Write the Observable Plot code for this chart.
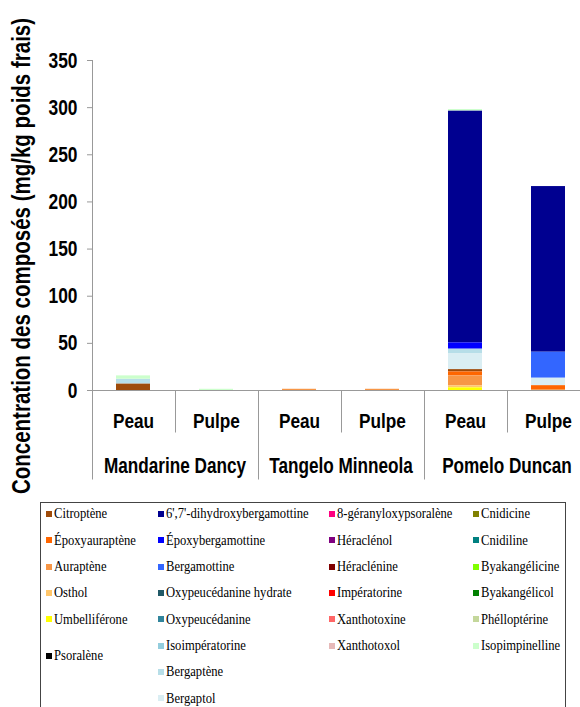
<!DOCTYPE html>
<html><head><meta charset="utf-8">
<script src="https://cdn.jsdelivr.net/npm/d3@7"></script>
<script src="https://cdn.jsdelivr.net/npm/@observablehq/plot@0.6"></script>
<style>
html,body{margin:0;padding:0;background:#fff;overflow:hidden;width:580px;height:707px;}
#chart{position:absolute;left:0;top:0;width:600px;}
#chart svg{max-width:none !important;overflow:visible;}
#legend{position:absolute;left:40px;top:502px;width:526px;height:215px;border:1px solid #444;box-sizing:border-box;font-family:"Liberation Serif","Times New Roman",serif;font-size:15px;color:#000;background:#fff;}
.sw{position:absolute;width:6px;height:6px;}
.lab{position:absolute;white-space:nowrap;transform:scaleX(0.84);transform-origin:0 50%;line-height:1;}
</style></head><body>
<div id="chart"></div><div id="legend"></div>
<script>
// ---- categories ----
const groups = ["Mandarine Dancy", "Tangelo Minneola", "Pomelo Duncan"];
const parts = ["Peau", "Pulpe"];

// ---- series (legend order) ----
const seriesNames = [
  "Citroptène", "Époxyauraptène", "Auraptène", "Osthol", "Umbelliférone", "Psoralène",
  "6',7'-dihydroxybergamottine", "Époxybergamottine", "Bergamottine", "Oxypeucédanine hydrate",
  "Oxypeucédanine", "Isoimpératorine", "Bergaptène", "Bergaptol",
  "8-géranyloxypsoralène", "Héraclénol", "Héraclénine", "Impératorine", "Xanthotoxine", "Xanthotoxol",
  "Cnidicine", "Cnidiline", "Byakangélicine", "Byakangélicol", "Phélloptérine", "Isopimpinelline"
];
const seriesColors = [
  "#9E4B0A", "#FF6600", "#F79646", "#FFC66A", "#FFFF00", "#000000",
  "#000090", "#0000FF", "#3366FF", "#215967",
  "#31859C", "#93CDDD", "#B7DEE8", "#DAEEF3",
  "#FF0080", "#800080", "#800000", "#FF0000", "#FF6666", "#E6B9B8",
  "#808000", "#008080", "#80FF00", "#008000", "#C4D79B", "#CCFFCC"
];
// stacking order, bottom to top
const stackOrder = [
  "Psoralène", "Umbelliférone", "Osthol", "Auraptène", "Époxyauraptène", "Citroptène",
  "Bergaptol", "Bergaptène", "Isoimpératorine", "Oxypeucédanine", "Oxypeucédanine hydrate",
  "Bergamottine", "Époxybergamottine", "6',7'-dihydroxybergamottine",
  "Xanthotoxol", "Xanthotoxine", "Impératorine", "Héraclénine", "Héraclénol", "8-géranyloxypsoralène",
  "Isopimpinelline", "Phélloptérine", "Byakangélicol", "Byakangélicine", "Cnidiline", "Cnidicine"
];

// ---- values (mg/kg), in seriesNames order ----
//                          Cit  Epa  Aur  Ost  Umb  Pso  DHB  EpB  Berg OxH  Oxy  Iso  Bgn  Bgl  Ger  Hol  Hin  Imp  Xin  Xol  Cdc  Cdl  ByA  ByO  Phe  Ipi
const mandarinePeau   = [7.0, 0,   0,   0,   0,   0,   0,   0,   0,   0,   0,   0,   5.0, 0,   0,   0,   0,   0,   0,   0,   0,   0,   0,   0,   0,   3.5];
const mandarinePulpe  = [0,   0,   0,   0,   0,   0,   0,   0,   0,   0,   0,   0,   0,   0,   0,   0,   0,   0,   0,   0,   0,   0,   0,   0,   0,   1.3];
const tangeloPeau     = [0,   0,   1.3, 0,   0,   0,   0,   0,   0,   0,   0,   0,   0,   0,   0,   0,   0,   0,   0,   0,   0,   0,   0,   0,   0,   0];
const tangeloPulpe    = [0,   0,   1.3, 0,   0,   0,   0,   0,   0,   0,   0,   0,   0,   0,   0,   0,   0,   0,   0,   0,   0,   0,   0,   0,   0,   0];
const pomeloPeau      = [2.5, 4.2, 10.6,2.1, 2.8, 0,   246, 6.7, 0,   0,   0,   0,   4.6, 17,  0,   0,   0,   0,   0,   0,   0,   0,   0,   0,   0,   1.5];
const pomeloPulpe     = [0,   4.2, 1.0, 0,   0,   0,   175.7,0,  27.6,0,   0,   0,   0,   7.8, 0,   0,   0,   0,   0,   0,   0,   0,   0,   0,   0,   0];

const yTicks = [0, 50, 100, 150, 200, 250, 300, 350];
const yTitle = "Concentration des composés (mg/kg poids frais)";

// ---- build table ----
const sampleKeys = groups.flatMap(g => parts.map(p => g + "|" + p));
const sampleValues = [mandarinePeau, mandarinePulpe, tangeloPeau, tangeloPulpe, pomeloPeau, pomeloPulpe];
const data = sampleKeys.flatMap((k, i) =>
  seriesNames.map((s, j) => ({sample: k, compound: s, value: sampleValues[i][j]}))
).filter(d => d.value > 0);

const plot = Plot.plot({
  width: 600, height: 490,
  marginTop: 60, marginBottom: 100, marginLeft: 92, marginRight: 10,
  style: {background: "white", fontFamily: "'Liberation Sans', Arial, sans-serif", color: "#000", maxWidth: "none"},
  x: {domain: sampleKeys, paddingInner: 0.59, paddingOuter: 0.295},
  y: {domain: [0, 350]},
  color: {domain: seriesNames, range: seriesColors},
  marks: [
    Plot.barY(data, {x: "sample", y: "value", fill: "compound", order: stackOrder}),
    Plot.ruleY([0], {stroke: "#999"}),
    Plot.axisY({ticks: yTicks, tickSize: 5, tickPadding: 10, fontSize: 22, fontWeight: "bold",
      stroke: "#999", fill: "#000", label: null}),
    Plot.axisX({tickSize: 0, tickPadding: 23, fontSize: 21, fontWeight: "bold", fill: "#000",
      tickFormat: k => k.split("|")[1], label: null})
  ]
});
document.getElementById("chart").append(plot);

// ---- decorations drawn from the scales ----
const svg = d3.select(plot);
const xs = plot.scale("x"), ys = plot.scale("y");
const [r0, r1] = xs.range;
const step = (r1 - r0) / xs.domain.length;
const yBase = ys.apply(0), yTop = ys.apply(350);
const deco = svg.append("g").attr("stroke", "#999").attr("stroke-width", 1);
deco.append("line").attr("x1", r0 + 0.5).attr("x2", r0 + 0.5).attr("y1", yTop).attr("y2", yBase + 89.5);
for (let i = 1; i <= xs.domain.length; i++) {
  const x = r0 + i * step + 0.5;
  deco.append("line").attr("x1", x).attr("x2", x).attr("y1", yBase)
    .attr("y2", yBase + (i % 2 === 0 ? 89.5 : 42.5));
}
const grp = svg.append("g").attr("font-size", 22).attr("font-weight", "bold")
  .attr("text-anchor", "middle").attr("fill", "#000").attr("class", "grp");
groups.forEach((g, gi) => {
  grp.append("text").attr("x", r0 + (2 * gi + 1) * step).attr("y", yBase + 83).text(g);
});
svg.append("text").attr("class", "ttl")
  .attr("transform", "translate(30,256) rotate(-90)")
  .attr("text-anchor", "middle").attr("font-size", 25).attr("font-weight", "bold")
  .attr("fill", "#000").text(yTitle);

function squeeze(sel, r) {
  svg.selectAll(sel).each(function () {
    const len = this.getComputedTextLength();
    this.setAttribute("textLength", len * r);
    this.setAttribute("lengthAdjust", "spacingAndGlyphs");
  });
}
squeeze('g[aria-label="y-axis tick label"] text', 0.79);
squeeze('g[aria-label="x-axis tick label"] text', 0.82);
squeeze('g.grp text', 0.78);
squeeze('text.ttl', 0.82);

// ---- legend (HTML) ----
const legendColumns = [
  seriesNames.slice(0, 6), seriesNames.slice(6, 14), seriesNames.slice(14, 20), seriesNames.slice(20, 26)
];
const colX = [4.5, 116.5, 287.5, 431.5];
const legend = document.getElementById("legend");
legendColumns.forEach((col, ci) => {
  col.forEach((name, ri) => {
    const r = (ci === 0 && ri === 5) ? 5.4 : ri;
    const cy = 11 + r * 26.3;
    const sw = document.createElement("div");
    sw.className = "sw";
    sw.style.left = colX[ci] + "px";
    sw.style.top = (cy - 3) + "px";
    sw.style.background = seriesColors[seriesNames.indexOf(name)];
    const lab = document.createElement("div");
    lab.className = "lab";
    lab.style.left = (colX[ci] + 8) + "px";
    lab.style.top = (cy - 7.6) + "px";
    lab.textContent = name;
    legend.append(sw, lab);
  });
});
</script></body></html>
